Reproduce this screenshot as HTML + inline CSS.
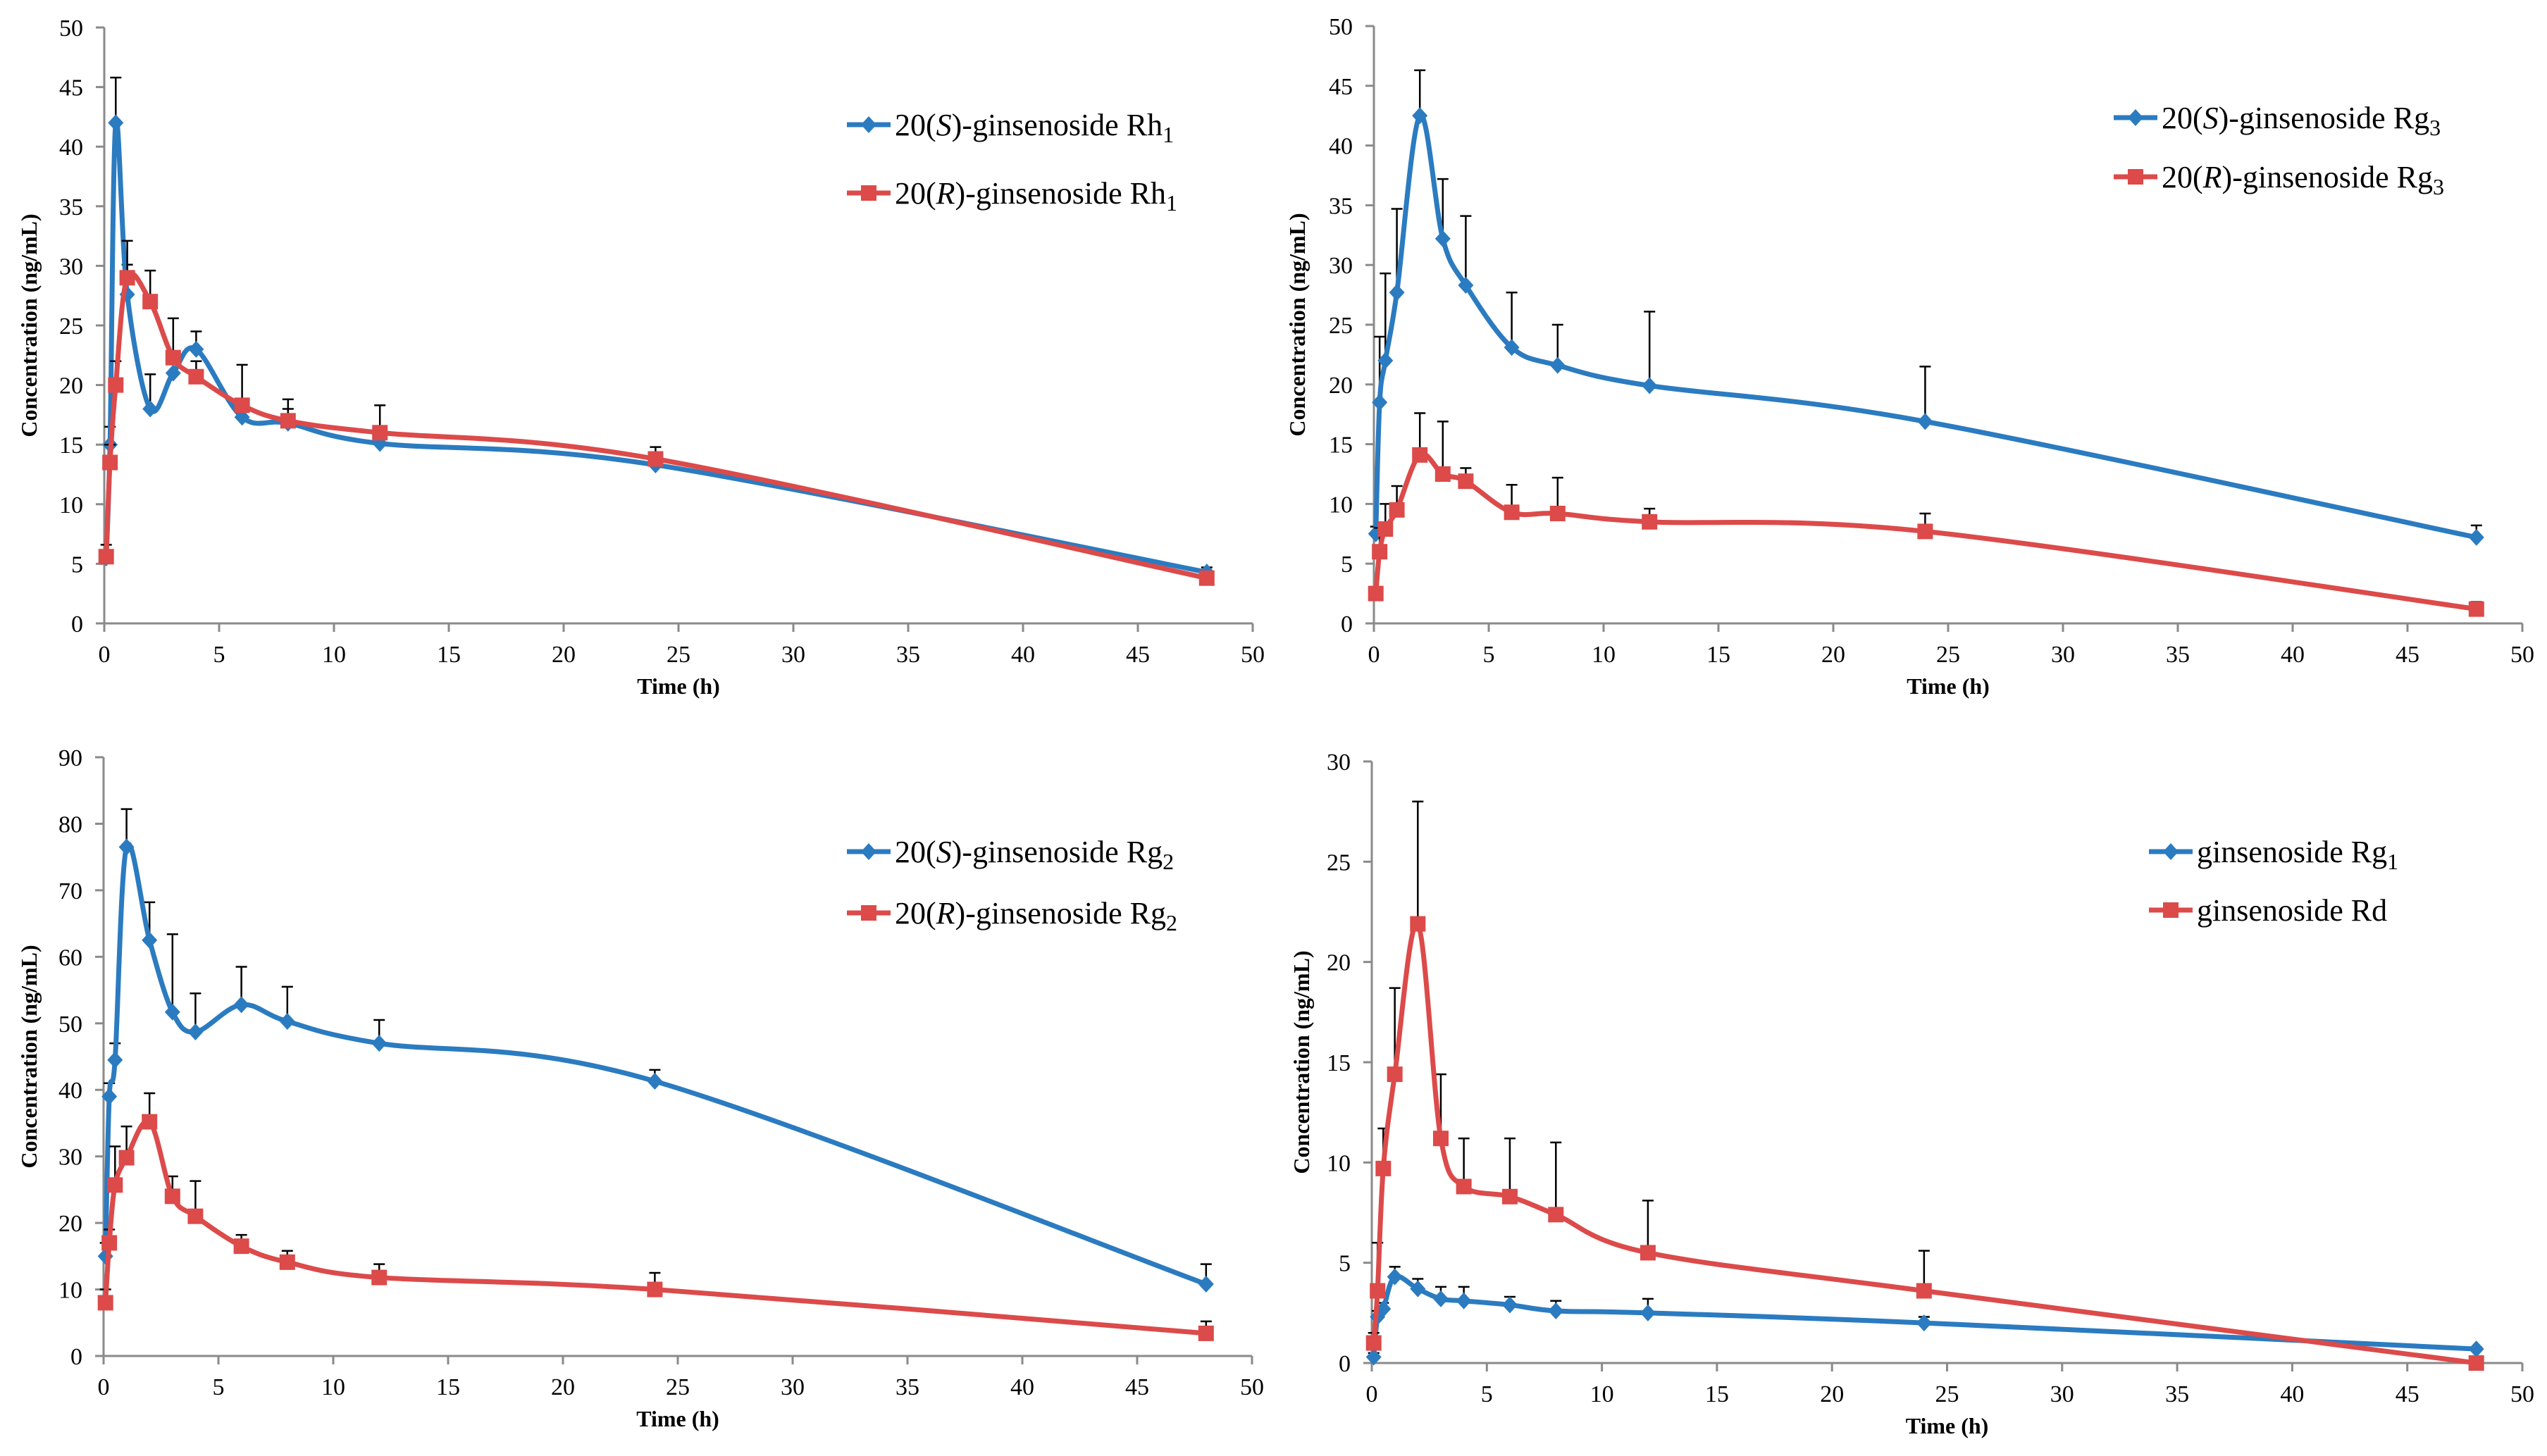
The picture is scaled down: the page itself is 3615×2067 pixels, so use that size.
<!DOCTYPE html>
<html><head><meta charset="utf-8">
<style>
html,body{margin:0;padding:0;background:#fff;}
svg{display:block;font-family:"Liberation Serif",serif;}
</style></head>
<body>
<svg id="chart" width="3615" height="2067" viewBox="0 0 3615 2067" xmlns="http://www.w3.org/2000/svg"></svg>
<script>
const times = [0.083,0.25,0.5,1,2,3,4,6,8,12,24,48];
const xTicks = [0,5,10,15,20,25,30,35,40,45,50];

const rh1S = [5.5,15,42,27.6,18,21,23,17.3,16.8,15.1,13.3,4.3];
const rh1SErr = [0.5,1.5,3.8,2.5,2.9,1.2,1.5,0.6,1.2,0.8,0.5,0.4];
const rh1R = [5.6,13.5,20,29,27,22.3,20.7,18.3,17,16,13.8,3.8];
const rh1RErr = [1,1.5,2,3.1,2.6,3.3,1.3,3.4,1.8,2.3,1,0.4];
const rh1Ticks = [0,5,10,15,20,25,30,35,40,45,50];

const rg3S = [7.5,18.5,22,27.7,42.5,32.2,28.3,23.1,21.6,19.9,16.9,7.2];
const rg3SErr = [0.6,5.5,7.3,7,3.8,5,5.8,4.6,3.4,6.2,4.6,1];
const rg3R = [2.5,6,7.9,9.5,14.1,12.5,11.9,9.3,9.2,8.5,7.7,1.2];
const rg3RErr = [0.5,2,2.1,2,3.5,4.4,1.1,2.3,3,1.1,1.5,0.6];
const rg3Ticks = [0,5,10,15,20,25,30,35,40,45,50];

const rg2S = [15,39,44.5,76.5,62.5,51.7,48.7,52.8,50.3,47,41.3,10.8];
const rg2SErr = [2,2,2.5,5.7,5.7,11.7,5.8,5.7,5.2,3.5,1.7,3];
const rg2R = [8,17,25.7,29.8,35.2,24,21,16.5,14.1,11.8,10,3.4];
const rg2RErr = [2,2,5.8,4.7,4.3,3,5.3,1.7,1.7,2,2.5,1.8];
const rg2Ticks = [0,10,20,30,40,50,60,70,80,90];

const rg1 = [0.3,2.3,2.7,4.3,3.7,3.2,3.1,2.9,2.6,2.5,2,0.7];
const rg1Err = [0.2,0.3,0.3,0.5,0.5,0.6,0.7,0.4,0.5,0.7,0.3,0.1];
const rd = [1,3.6,9.7,14.4,21.9,11.2,8.8,8.3,7.4,5.5,3.6,0];
const rdErr = [0.5,2.4,2,4.3,6.1,3.2,2.4,2.9,3.6,2.6,2,0.1];
const rdTicks = [0,5,10,15,20,25,30];

const BLUE="#2b7bc0", RED="#dc4a4a", AXIS="#8a8a8a";
const svg=document.getElementById('chart');
const NS="http://www.w3.org/2000/svg";
function mk(tag,attrs,parent){const e=document.createElementNS(NS,tag);for(const k in attrs)e.setAttribute(k,attrs[k]);(parent||svg).appendChild(e);return e;}

function smoothPath(pts){
  let d=`M${pts[0][0]},${pts[0][1]}`;
  for(let i=0;i<pts.length-1;i++){
    const p0=pts[Math.max(0,i-1)],p1=pts[i],p2=pts[i+1],p3=pts[Math.min(pts.length-1,i+2)];
    const t=1/6;
    const c1=[p1[0]+(p2[0]-p0[0])*t,p1[1]+(p2[1]-p0[1])*t];
    const c2=[p2[0]-(p3[0]-p1[0])*t,p2[1]-(p3[1]-p1[1])*t];
    d+=` C${c1[0]},${c1[1]} ${c2[0]},${c2[1]} ${p2[0]},${p2[1]}`;
  }
  return d;
}

function panel(cfg){
  const g=mk('g',{});
  
  
  const ymax=cfg.yTicks[cfg.yTicks.length-1];
  const X=v=>cfg.x0+(v/50)*(cfg.x1-cfg.x0);
  const Y=v=>cfg.y0-(v/ymax)*(cfg.y0-cfg.y1);
  const ya=mk('line',{x1:cfg.x0,y1:cfg.y1,x2:cfg.x0,y2:cfg.y0,stroke:AXIS,'stroke-width':3},g);
  
  
  const xa=mk('line',{x1:cfg.x0-12,y1:cfg.y0,x2:cfg.x1,y2:cfg.y0,stroke:AXIS,'stroke-width':3},g);
  
  
  cfg.yTicks.forEach(t=>{
    const y=Y(t);
    mk('line',{x1:cfg.x0-12,y1:y,x2:cfg.x0,y2:y,stroke:AXIS,'stroke-width':3},g);
    const tx=mk('text',{x:cfg.x0-30,y:y+12,'text-anchor':'end','font-size':34,fill:'#000'},g);
    tx.textContent=t;
    
    
  });
  xTicks.forEach(t=>{
    const x=X(t);
    mk('line',{x1:x,y1:cfg.y0,x2:x,y2:cfg.y0+12,stroke:AXIS,'stroke-width':3},g);
    const tx=mk('text',{x:x,y:cfg.y0+55,'text-anchor':'middle','font-size':34,fill:'#000'},g);
    tx.textContent=t;
    
    
  });
  const xt=mk('text',{x:X(25),y:cfg.y0+100,'text-anchor':'middle','font-size':32,'font-weight':'bold',fill:'#000'},g);
  xt.textContent='Time (h)';
  
  
  const ycy=(cfg.y0+cfg.y1)/2;
  const yt=mk('text',{x:cfg.ytx,y:ycy,'text-anchor':'middle','font-size':32,'font-weight':'bold',fill:'#000',transform:`rotate(-90 ${cfg.ytx} ${ycy})`},g);
  yt.textContent='Concentration (ng/mL)';
  
  
  cfg.series.forEach(s=>{
    const pts=times.map((t,i)=>[X(t),Y(s.vals[i])]);
    s.vals.forEach((v,i)=>{
      const x=X(times[i]),yb=Y(v),yt2=Y(v+s.err[i]);
      const eb=mk('path',{d:`M${x},${yb} V${yt2} M${x-8},${yt2} H${x+8}`,stroke:'#000','stroke-width':2.5,fill:'none'},g);
      
      
    });
    const p=mk('path',{d:smoothPath(pts),stroke:s.color,'stroke-width':7,fill:'none','stroke-linejoin':'round'},g);
    
    
    pts.forEach(pt=>{
      let m;
      if(s.marker==='diamond'){
        m=mk('path',{d:`M${pt[0]},${pt[1]-12} L${pt[0]+11},${pt[1]} L${pt[0]},${pt[1]+12} L${pt[0]-11},${pt[1]}Z`,fill:s.color},g);
      }else{
        m=mk('rect',{x:pt[0]-11,y:pt[1]-11,width:22,height:22,fill:s.color},g);
      }
      
      
    });
  });
  cfg.series.forEach((s,i)=>{
    const ly=cfg.legY[i];
    const lg=mk('g',{},g);
    
    
    mk('line',{x1:cfg.legX,y1:ly,x2:cfg.legX+62,y2:ly,stroke:s.color,'stroke-width':7},lg);
    if(s.marker==='diamond') mk('path',{d:`M${cfg.legX+31},${ly-12} l11,12 l-11,12 l-11,-12Z`,fill:s.color},lg);
    else mk('rect',{x:cfg.legX+20,y:ly-11,width:22,height:22,fill:s.color},lg);
    const t=mk('text',{x:cfg.legX+68,y:ly+15,'font-size':44,fill:'#000'},lg);
    t.innerHTML=s.label;
  });
}

panel({name:'panel-rh1',x0:148,x1:1778,y0:885,y1:39,ytx:52,yTicks:rh1Ticks,legX:1202,legY:[177,274],
  series:[{key:'s-rh1',vals:rh1S,err:rh1SErr,color:BLUE,marker:'diamond',label:'20(<tspan font-style="italic">S</tspan>)-ginsenoside Rh<tspan font-size="32" dy="10">1</tspan>'},
          {key:'r-rh1',vals:rh1R,err:rh1RErr,color:RED,marker:'square',label:'20(<tspan font-style="italic">R</tspan>)-ginsenoside Rh<tspan font-size="32" dy="10">1</tspan>'}]});
panel({name:'panel-rg3',x0:1950,x1:3580,y0:885,y1:37,ytx:1852,yTicks:rg3Ticks,legX:3000,legY:[167,251],
  series:[{key:'s-rg3',vals:rg3S,err:rg3SErr,color:BLUE,marker:'diamond',label:'20(<tspan font-style="italic">S</tspan>)-ginsenoside Rg<tspan font-size="32" dy="10">3</tspan>'},
          {key:'r-rg3',vals:rg3R,err:rg3RErr,color:RED,marker:'square',label:'20(<tspan font-style="italic">R</tspan>)-ginsenoside Rg<tspan font-size="32" dy="10">3</tspan>'}]});
panel({name:'panel-rg2',x0:147,x1:1777,y0:1925,y1:1075,ytx:52,yTicks:rg2Ticks,legX:1202,legY:[1209,1296],
  series:[{key:'s-rg2',vals:rg2S,err:rg2SErr,color:BLUE,marker:'diamond',label:'20(<tspan font-style="italic">S</tspan>)-ginsenoside Rg<tspan font-size="32" dy="10">2</tspan>'},
          {key:'r-rg2',vals:rg2R,err:rg2RErr,color:RED,marker:'square',label:'20(<tspan font-style="italic">R</tspan>)-ginsenoside Rg<tspan font-size="32" dy="10">2</tspan>'}]});
panel({name:'panel-rg1-rd',x0:1947,x1:3580,y0:1935,y1:1081,ytx:1858,yTicks:rdTicks,legX:3050,legY:[1209,1292],
  series:[{key:'rg1',vals:rg1,err:rg1Err,color:BLUE,marker:'diamond',label:'ginsenoside Rg<tspan font-size="32" dy="10">1</tspan>'},
          {key:'rd',vals:rd,err:rdErr,color:RED,marker:'square',label:'ginsenoside Rd'}]});
</script>
</body></html>
